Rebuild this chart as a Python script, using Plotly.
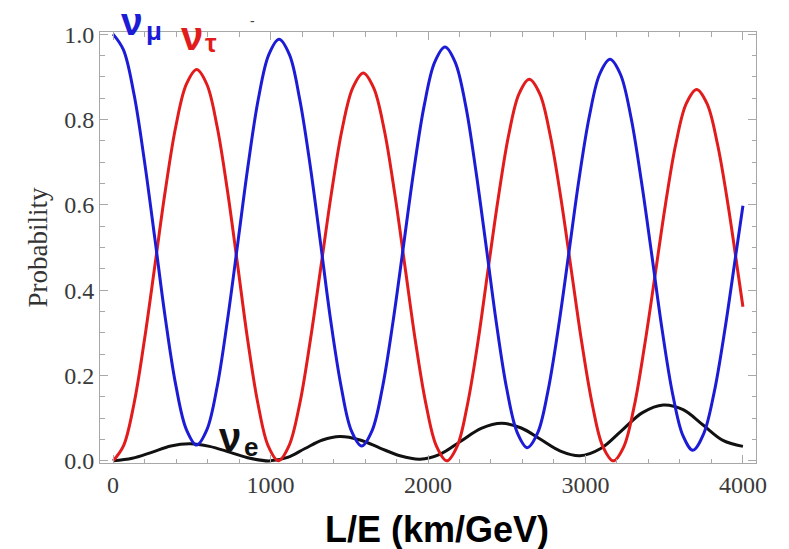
import plotly.graph_objects as go

# ---- data ----
# nu_mu survival probability (blue)
x_mu = [0, 66, 133, 199, 266, 332, 398, 465, 531,
        596, 662, 727, 793, 858, 923, 989, 1054,
        1120, 1185, 1251, 1317, 1382, 1448, 1513, 1579,
        1645, 1711, 1777, 1844, 1910, 1976, 2042, 2108,
        2173, 2239, 2304, 2370, 2435, 2500, 2566, 2631,
        2697, 2762, 2828, 2894, 2959, 3025, 3090, 3156,
        3222, 3288, 3354, 3421, 3487, 3553, 3619, 3682,
        3751, 3817, 3883, 3949, 4000]
p_mu = [1.000, 0.963, 0.859, 0.703, 0.519, 0.334, 0.178, 0.074, 0.037,
        0.073, 0.176, 0.331, 0.513, 0.694, 0.849, 0.952, 0.988,
        0.952, 0.848, 0.694, 0.512, 0.329, 0.175, 0.071, 0.035,
        0.071, 0.172, 0.324, 0.503, 0.681, 0.833, 0.934, 0.970,
        0.934, 0.833, 0.680, 0.501, 0.321, 0.169, 0.067, 0.031,
        0.066, 0.164, 0.312, 0.486, 0.660, 0.808, 0.906, 0.941,
        0.906, 0.807, 0.658, 0.483, 0.307, 0.158, 0.059, 0.025,
        0.064, 0.160, 0.302, 0.468, 0.598]

# nu_mu -> nu_tau (red)
x_tau = [0, 66, 133, 199, 266, 332, 398, 465, 531,
         596, 661, 726, 791, 855, 920, 985, 1050,
         1117, 1185, 1252, 1320, 1387, 1454, 1522, 1589,
         1655, 1722, 1788, 1854, 1920, 1987, 2053, 2119,
         2185, 2250, 2316, 2381, 2447, 2512, 2578, 2643,
         2710, 2776, 2843, 2910, 2977, 3044, 3110, 3177,
         3243, 3309, 3375, 3442, 3508, 3574, 3640, 3706,
         3772, 3838, 3905, 3971, 4000]
p_tau = [0.000, 0.035, 0.134, 0.283, 0.459, 0.634, 0.783, 0.882, 0.917,
         0.882, 0.783, 0.634, 0.459, 0.283, 0.134, 0.035, 0.000,
         0.035, 0.133, 0.281, 0.455, 0.628, 0.776, 0.874, 0.909,
         0.874, 0.776, 0.628, 0.455, 0.281, 0.133, 0.035, 0.000,
         0.034, 0.131, 0.276, 0.447, 0.618, 0.763, 0.860, 0.894,
         0.860, 0.763, 0.618, 0.447, 0.276, 0.131, 0.034, 0.000,
         0.033, 0.127, 0.269, 0.435, 0.601, 0.743, 0.837, 0.870,
         0.837, 0.743, 0.601, 0.435, 0.361]

# nu_mu -> nu_e (black)
x_e = [0, 122, 245, 367, 490, 612, 744, 870, 997,
       1108, 1219, 1330, 1441, 1568, 1695, 1822, 1949,
       2079, 2208, 2338, 2468, 2592, 2717, 2841, 2965,
       3097, 3230, 3362, 3494, 3620, 3747, 3873, 4000]
p_e = [0.000, 0.006, 0.020, 0.035, 0.040, 0.034, 0.020, 0.006, 0.000,
       0.008, 0.029, 0.049, 0.057, 0.049, 0.030, 0.012, 0.004,
       0.016, 0.046, 0.076, 0.088, 0.077, 0.050, 0.023, 0.012,
       0.029, 0.071, 0.113, 0.131, 0.120, 0.084, 0.048, 0.034]

x_ticks = [0, 1000, 2000, 3000, 4000]
y_ticks = [0.0, 0.2, 0.4, 0.6, 0.8, 1.0]

BLUE = "#1c1cd6"
RED = "#e21c1c"
BLACK = "#111111"

fig = go.Figure()
for xs, ys, col in [(x_e, p_e, BLACK), (x_tau, p_tau, RED), (x_mu, p_mu, BLUE)]:
    fig.add_trace(go.Scatter(x=xs, y=ys, mode="lines",
                             line=dict(color=col, width=3, shape="spline", smoothing=1.0),
                             showlegend=False, hoverinfo="skip"))

W, H = 789, 549
ml, mr, mt, mb = 100, 33, 32, 86
axis_common = dict(showline=True, linecolor="#a8a8a8", linewidth=1, mirror="allticks",
                   ticks="inside", tickcolor="#a8a8a8", ticklen=8, tickwidth=1,
                   showgrid=False, zeroline=False,
                   tickfont=dict(family="Liberation Serif", size=24, color="#3a3a3a"))

fig.update_xaxes(range=[-83, 4083], tickvals=x_ticks, ticktext=[str(v) for v in x_ticks],
                 minor=dict(dtick=200, tick0=0, ticks="inside", ticklen=4.5, tickcolor="#a8a8a8"),
                 **axis_common)
fig.update_yaxes(range=[-0.005, 1.005], tickvals=y_ticks, ticktext=["%.1f" % v for v in y_ticks],
                 minor=dict(dtick=0.05, tick0=0, ticks="inside", ticklen=4.5, tickcolor="#a8a8a8"),
                 title=dict(text="Probability", standoff=8,
                            font=dict(family="Liberation Serif", size=27, color="#333333")),
                 **axis_common)

def px_x(X):
    return (X - ml) / (W - ml - mr)

def px_y(Y):
    return 1 - (Y - mt) / (H - mt - mb)

ann = []
# x-axis title
ann.append(dict(text="<b>L/E (km/GeV)</b>", x=px_x(437), y=px_y(529), xref="paper", yref="paper",
                showarrow=False, xanchor="center", yanchor="middle", borderpad=0,
                font=dict(family="Liberation Sans", size=36, color="#000000")))
# curve labels
def label(main, sub, X, Y, Xs, Ys, col, size=40):
    ann.append(dict(text="<b>%s</b>" % main, x=px_x(X), y=px_y(Y), xref="paper", yref="paper",
                    showarrow=False, xanchor="center", yanchor="middle", borderpad=0,
                    font=dict(family="Liberation Sans", size=size, color=col)))
    ann.append(dict(text="<b>%s</b>" % sub, x=px_x(Xs), y=px_y(Ys), xref="paper", yref="paper",
                    showarrow=False, xanchor="center", yanchor="middle", borderpad=0,
                    font=dict(family="Liberation Sans", size=26, color=col)))

label("ν", "μ", 132, 22, 154, 31, BLUE, size=39)
label("ν", "τ", 192, 36, 211, 43, RED)
label("ν", "e", 230, 437, 251, 447, BLACK)
ann.append(dict(text="-", x=px_x(252), y=px_y(21), xref="paper", yref="paper", showarrow=False,
                xanchor="center", yanchor="middle",
                font=dict(family="Liberation Sans", size=14, color="#444444")))

fig.update_layout(width=W, height=H, margin=dict(l=ml, r=mr, t=mt, b=mb),
                  plot_bgcolor="white", paper_bgcolor="white", annotations=ann)

fig.write_html("out.html")
